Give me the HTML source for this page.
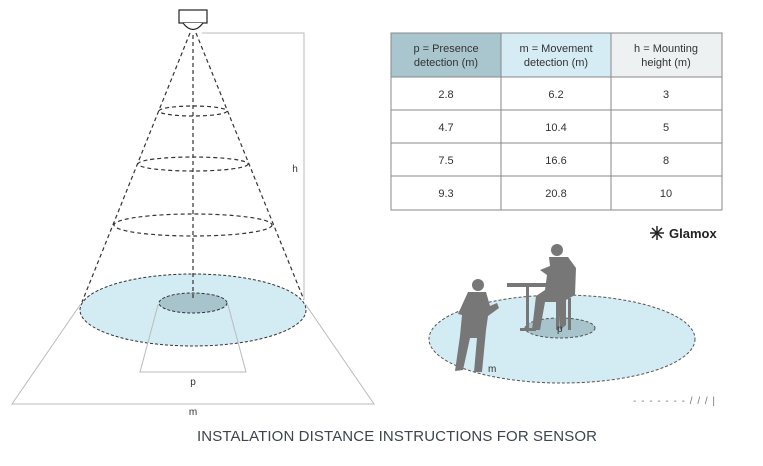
<!DOCTYPE html>
<html><head><style>
body{margin:0;background:#fff;width:763px;height:461px;overflow:hidden;font-family:"Liberation Sans",sans-serif;}
</style></head><body>
<svg width="763" height="461" viewBox="0 0 763 461" xmlns="http://www.w3.org/2000/svg" font-family="Liberation Sans, sans-serif">
<!-- floor trapezoids -->
<polygon points="80,305 12,404 374,404 306,305" fill="none" stroke="#bbb" stroke-width="1"/>
<!-- big ellipse -->
<ellipse cx="193" cy="310" rx="113" ry="36" fill="#d3ebf3" stroke="#333" stroke-width="1" stroke-dasharray="3,2"/>
<polygon points="158,305 140,372 246,372 228,305" fill="none" stroke="#bbb" stroke-width="1"/>
<ellipse cx="193" cy="303" rx="34" ry="10" fill="#a7c3cb" stroke="#333" stroke-width="1" stroke-dasharray="3,2"/>
<!-- cone -->
<g stroke="#333" stroke-width="1.2" stroke-dasharray="4,3" fill="none">
<line x1="190" y1="33" x2="82" y2="302"/>
<line x1="196" y1="33" x2="304" y2="300"/>
<line x1="193" y1="35" x2="193" y2="300"/>
<ellipse cx="193" cy="111" rx="34" ry="5"/>
<ellipse cx="193" cy="164" rx="55" ry="7"/>
<ellipse cx="193" cy="225" rx="79" ry="11"/>
</g>
<!-- sensor -->
<rect x="179" y="10" width="28" height="13" fill="#fff" stroke="#222" stroke-width="1.2"/>
<path d="M183,23 Q193,36 203,23" fill="#fff" stroke="#222" stroke-width="1.2"/>
<polyline points="202,33 304,33 304,300" fill="none" stroke="#bbb" stroke-width="1"/>
<text x="295" y="172" font-size="10" fill="#333" text-anchor="middle">h</text>
<text x="193" y="385" font-size="10" fill="#333" text-anchor="middle">p</text>
<text x="193" y="415" font-size="10" fill="#333" text-anchor="middle">m</text>
<text x="397" y="441" font-size="15" fill="#3c4550" text-anchor="middle" textLength="400">INSTALATION DISTANCE INSTRUCTIONS FOR SENSOR</text>
<!-- table -->
<g font-size="11" fill="#333" text-anchor="middle">
<rect x="391" y="33" width="110" height="44" fill="#a9c6cf"/>
<rect x="501" y="33" width="110" height="44" fill="#d5ecf4"/>
<rect x="611" y="33" width="111" height="44" fill="#eef1f2"/>
<g stroke="#888" stroke-width="1" fill="none">
<rect x="391" y="33" width="331" height="177"/>
<line x1="501" y1="33" x2="501" y2="210"/><line x1="611" y1="33" x2="611" y2="210"/>
<line x1="391" y1="77" x2="722" y2="77"/><line x1="391" y1="110" x2="722" y2="110"/>
<line x1="391" y1="143" x2="722" y2="143"/><line x1="391" y1="176" x2="722" y2="176"/>
</g>
<text x="446" y="52">p = Presence</text><text x="446" y="66">detection (m)</text>
<text x="556" y="52">m = Movement</text><text x="556" y="66">detection (m)</text>
<text x="666" y="52">h = Mounting</text><text x="666" y="66">height (m)</text>
<text x="446" y="98">2.8</text><text x="556" y="98">6.2</text><text x="666" y="98">3</text>
<text x="446" y="131">4.7</text><text x="556" y="131">10.4</text><text x="666" y="131">5</text>
<text x="446" y="164">7.5</text><text x="556" y="164">16.6</text><text x="666" y="164">8</text>
<text x="446" y="197">9.3</text><text x="556" y="197">20.8</text><text x="666" y="197">10</text>
</g>
<!-- Glamox -->
<g stroke="#222" stroke-width="1.5">
<line x1="650" y1="233" x2="664" y2="233"/><line x1="657" y1="226" x2="657" y2="240"/>
<line x1="652" y1="228" x2="662" y2="238"/><line x1="662" y1="228" x2="652" y2="238"/>
</g>
<text x="669" y="238" font-size="13" font-weight="bold" fill="#222">Glamox</text>
<!-- right scene -->
<ellipse cx="562" cy="339" rx="133" ry="44" fill="#d3ebf3" stroke="#555" stroke-width="1" stroke-dasharray="3,2"/>
<ellipse cx="560" cy="328" rx="35" ry="10" fill="#a7c3cb" stroke="#555" stroke-width="1" stroke-dasharray="3,2"/>
<g fill="#777">
<!-- table -->
<rect x="507" y="283" width="42" height="4"/>
<rect x="526" y="287" width="3" height="43"/>
<rect x="520" y="328" width="16" height="3"/>
<!-- seated man -->
<circle cx="557" cy="250" r="6"/>
<path d="M549,257 L568,257 L576,268 L575,295 L566,300 L566,325 L560,330 L558,302 L545,302 L540,330 L532,330 L536,296 L545,290 L547,275 L540,270 L550,266 Z"/>
<rect x="568" y="298" width="3" height="32"/><rect x="556" y="300" width="3" height="30"/>
<!-- standing man -->
<circle cx="478" cy="285" r="6"/>
<path d="M468,292 L486,292 L490,306 L497,303 L499,308 L488,316 L486,330 L482,372 L474,372 L477,338 L470,338 L463,370 L455,371 L460,336 L462,315 L458,314 Z"/>
</g>
<text x="557" y="332" font-size="10" fill="#333">p</text>
<text x="488" y="372" font-size="10" fill="#333">m</text>
<text x="633" y="404" font-size="10" fill="#777" letter-spacing="1">- - - - - - - / / /  |</text>
</svg>
</body></html>
